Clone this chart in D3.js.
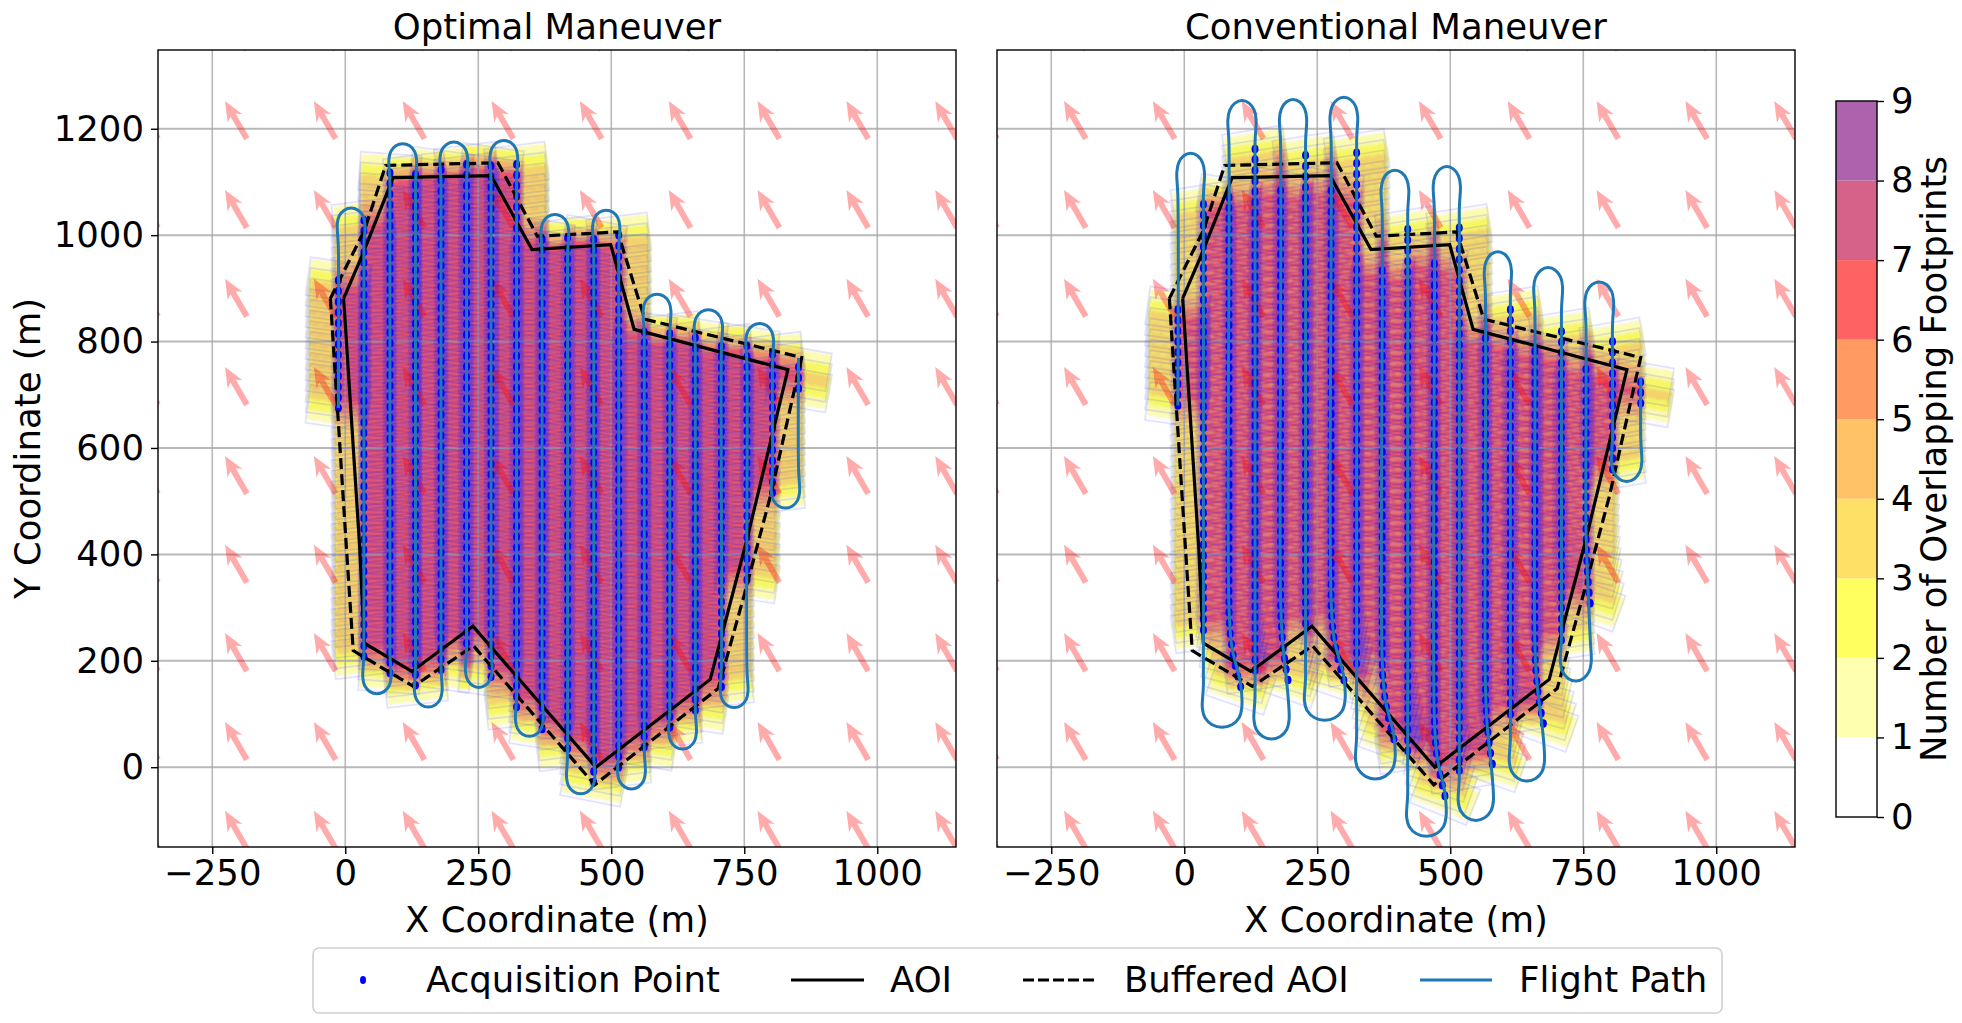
<!DOCTYPE html>
<html>
<head>
<meta charset="utf-8">
<script src="https://cdn.jsdelivr.net/npm/d3@7"></script>
<style>
  body { margin: 0; background: #fff; }
  text { font-family: "DejaVu Sans", sans-serif; fill: #000; }
</style>
</head>
<body>
<script>
// the AOI and its buffer, in metres
const aoiX = [-3, 27, 36, 125, 240, 471, 686, 755, 832, 543, 499, 351, 274, 90, 31, -3]
const aoiY = [881, 415, 233, 180, 265, 0, 165, 428, 747, 823, 982, 973, 1112, 1108, 960, 881]
const bufX = [-28, 2, 15, 128, 241, 469, 701, 750, 799, 858, 563, 512, 361, 287, 76, 36, -28]
const bufY = [881, 415, 219, 152, 228, -33, 148, 324, 509, 770, 842, 1006, 998, 1136, 1131, 1009, 881]

// acquisition lines, left panel
const leftColX = [-13, 35, 84, 132, 180, 228, 274, 322, 370, 418, 467, 514, 562, 610, 658, 707, 755, 803, 852]
const leftTop = [919, 1030, 1125, 1131, 1131, 1134, 1134, 1137, 997, 1000, 1003, 1006, 837, 828, 816, 803, 794, 778, 769]
const leftBottom = [675, 208, 177, 154, 183, 233, 170, 113, 72, 35, -28, 0, 38, 75, 107, 151, 352, 516, 712]
const leftTilt = [8, -7, 4, -7, 8, -7, 8, -7, 9, -7, 11, -7, 9, -7, 9, -7, 9, -7, 10]
const leftTurnTop = [1051, 1172, 1175, 1178, 1039, 1047, 889, 860, 834]
const leftTurnBottom = [138, 113, 150, 58, -50, -41, 34, 112, 487]
const leftDrift = [0, 0, 0, 0, 0, 0, 0, 0, 0, 0, 0, 0, 0, 0, 0, 0, 0, 0, 0]

// acquisition lines, right panel
const rightColX = [-12, 36, 84, 133, 181, 228, 276, 324, 372, 420, 470, 517, 566, 613, 659, 709, 755, 805, 858]
const rightTop = [878, 1065, 1084, 1162, 1100, 1162, 1103, 1170, 950, 1025, 959, 1030, 806, 860, 784, 830, 766, 806, 731]
const rightBottom = [680, 258, 151, 182, 164, 270, 164, 195, 53, 31, -54, -6, 6, 100, 82, 239, 308, 560, 684]
const rightTilt = [8, -9, 9, -9, 9, -9, 9, -9, 10, -9, 12, -9, 10, -9, 10, -9, 10, -10, 10]
const rightTurnTop = [1154, 1253, 1255, 1259, 1122, 1129, 969, 939, 912]
const rightTurnBottom = [75, 53, 88, -22, -130, -100, -26, 162, 537]
const rightDrift = [0, 0, 22, 0, 14, 0, 24, 0, 22, 0, 20, 0, 13, 0, 16, 0, 8, 0, 0]

// spacing of the points along a line, size of one footprint outline
// and of the part of it that counts in the overlap map
const alongTrack = 20
const footW = 115
const footH = 72
const heatW = 114
const leftHeatH = 62
const rightHeatH = 57

// wind arrows
const windX = [-352, -185, -18, 149, 316, 482, 649, 816, 983, 1150]
const windY = [1348, 1181, 1014, 847, 681, 514, 347, 181, 14, -153]
const windDX = -41
const windDY = 71

// colour levels and ticks
const levelColors = ['#ffffff', '#ffffb0', '#ffff60', '#ffe066', '#ffc266', '#ff9a62', '#ff6262', '#d6628a', '#ad62ad']
const xTicks = [-250, 0, 250, 500, 750, 1000]
const yTicks = [0, 200, 400, 600, 800, 1000, 1200]
const barTicks = [0, 1, 2, 3, 4, 5, 6, 7, 8, 9]

// layout
const WIDTH = 1962
const HEIGHT = 1023
const PLOT_W = 798
const PLOT_H = 797
const PLOT_TOP = 50
const FONT = 35.5
const LEFT_X = 158
const RIGHT_X = 997

const svg = d3.select('body').append('svg')
  .attr('width', WIDTH)
  .attr('height', HEIGHT)
  .style('display', 'block')

// a small blur, the original is a resampled bitmap
svg.append('filter').attr('id', 'soft')
  .attr('x', 0).attr('y', 0).attr('width', 1).attr('height', 1)
  .append('feGaussianBlur').attr('stdDeviation', 1.1)

const xScale = d3.scaleLinear().domain([-352, 1148]).range([0, PLOT_W])
const yScale = d3.scaleLinear().domain([-150, 1348]).range([PLOT_H, 0])

const line = d3.line().x(d => xScale(d[0])).y(d => yScale(d[1]))

// list of acquisition points of a panel
function acquisitions(p) {
  const out = []
  p.colX.forEach((cx, i) => {
    d3.range(p.bottom[i], p.top[i] + 1, alongTrack).forEach(y => {
      const k = Math.max(0, 1 - (y - p.bottom[i]) / 150)
      out.push({
        x: cx + p.drift[i] * k * k,
        y: y,
        tilt: p.tilt[i] + (p.drift[i] > 0 ? k * k * 10 : 0)
      })
    })
  })
  return out
}

// corners of a footprint, tilt is clockwise on the page
function corners(d) {
  const a = d.tilt * Math.PI / 180
  return [[-1, 1], [1, 1], [1, -1], [-1, -1]].map(c => {
    const u = c[0] * footW / 2
    const v = c[1] * footH / 2
    return [d.x + u * Math.cos(a) + v * Math.sin(a), d.y - u * Math.sin(a) + v * Math.cos(a)]
  })
}

// how many footprints cover each cell
function overlapGrid(points, heatH, cell, x0, y0, n, m) {
  const grid = new Float64Array(n * m)
  const hw = heatW / 2
  const hh = heatH / 2
  points.forEach(d => {
    const a = d.tilt * Math.PI / 180
    const cs = Math.cos(a)
    const sn = Math.sin(a)
    const r = hw + hh
    const i0 = Math.max(0, Math.floor((d.x - r - x0) / cell))
    const i1 = Math.min(n - 1, Math.ceil((d.x + r - x0) / cell))
    const j0 = Math.max(0, Math.floor((d.y - r - y0) / cell))
    const j1 = Math.min(m - 1, Math.ceil((d.y + r - y0) / cell))
    for (let j = j0; j <= j1; j++) {
      for (let i = i0; i <= i1; i++) {
        const dx = x0 + i * cell - d.x
        const dy = y0 + j * cell - d.y
        const u = dx * cs - dy * sn
        const v = dx * sn + dy * cs
        if (Math.abs(u) <= hw && Math.abs(v) <= hh) grid[j * n + i]++
      }
    }
  })
  return grid
}

// the flight line: up the even lines, down the odd ones, with a turn between
function flightPoints(p) {
  const pts = [[p.colX[0], p.bottom[0]]]
  const ry = p.turnRadius
  for (let i = 0; i < p.colX.length - 1; i++) {
    const up = i % 2 === 0
    const apex = up ? p.turnTop[i / 2] : p.turnBottom[(i - 1) / 2]
    const dir = up ? 1 : -1
    // the drift only bends the lines near their lower end
    const xa = p.colX[i] + (up ? 0 : p.drift[i])
    const xb = p.colX[i + 1] + (up ? 0 : p.drift[i + 1])
    const cx = (xa + xb) / 2
    const rx = (xb - xa) / 2 + 2
    const cy = apex - dir * ry
    pts.push([xa, cy - dir * 45])
    d3.range(0, 7).forEach(s => {
      const t = Math.PI - s * Math.PI / 6
      pts.push([cx + rx * Math.cos(t), cy + dir * ry * Math.sin(t)])
    })
    pts.push([xb, cy - dir * 45])
    if (!up && p.drift[i + 1] > 0) {
      pts.push([p.colX[i + 1] + p.drift[i + 1] * 0.25, p.bottom[i + 1] + 75])
      pts.push([p.colX[i + 1], p.bottom[i + 1] + 150])
    }
  }
  const last = p.colX.length - 1
  pts.push([p.colX[last], p.top[last]])
  return pts
}

// one panel
function drawPanel(left, title, p, showY, id) {
  const g = svg.append('g').attr('transform', `translate(${left},${PLOT_TOP})`)

  g.append('clipPath').attr('id', id)
    .append('rect').attr('width', PLOT_W).attr('height', PLOT_H)

  const plot = g.append('g').attr('clip-path', `url(#${id})`)
  const points = acquisitions(p)

  // overlap map as filled contours
  const cell = 3
  const x0 = -352
  const y0 = -150
  const n = Math.round(1500 / cell)
  const m = Math.round(1500 / cell)
  const contours = d3.contours().size([n, m]).smooth(false)
    .thresholds(d3.range(1, 9))(overlapGrid(points, p.heatH, cell, x0, y0, n, m))
  const toScreen = d3.geoTransform({
    point: function (x, y) {
      this.stream.point(xScale(x0 + x * cell), yScale(y0 + y * cell))
    }
  })
  plot.append('g').attr('filter', 'url(#soft)').selectAll('path')
    .data(contours)
    .join('path')
    .attr('d', d3.geoPath(toScreen))
    .attr('fill', d => levelColors[d.value])

  // grid
  plot.append('g').selectAll('line.v').data(xTicks).join('line')
    .attr('x1', d => xScale(d)).attr('x2', d => xScale(d))
    .attr('y1', 0).attr('y2', PLOT_H)
    .attr('stroke', '#a8a8a8').attr('stroke-opacity', 0.8).attr('stroke-width', 1.6)
  plot.append('g').selectAll('line.h').data(yTicks).join('line')
    .attr('x1', 0).attr('x2', PLOT_W)
    .attr('y1', d => yScale(d)).attr('y2', d => yScale(d))
    .attr('stroke', '#a8a8a8').attr('stroke-opacity', 0.8).attr('stroke-width', 2)

  // footprint outlines, with a trace of blue inside
  plot.append('g').selectAll('path')
    .data(points)
    .join('path')
    .attr('d', d => line(corners(d)) + 'Z')
    .attr('fill', '#0000ff')
    .attr('fill-opacity', 0.016)
    .attr('stroke', '#0000ff')
    .attr('stroke-opacity', 0.11)
    .attr('stroke-width', 1.7)

  // wind arrows
  const wind = d3.cross(windX, windY)
  plot.append('g').selectAll('path')
    .data(wind)
    .join('path')
    .attr('d', d => {
      const x1 = xScale(d[0])
      const y1 = yScale(d[1])
      const x2 = xScale(d[0] + windDX)
      const y2 = yScale(d[1] + windDY)
      const len = Math.hypot(x2 - x1, y2 - y1)
      const ux = (x2 - x1) / len
      const uy = (y2 - y1) / len
      const s = 3
      const hw = 8.5
      const hl = 20
      const bx = x2 - ux * hl
      const by = y2 - uy * hl
      const nx = -uy
      const ny = ux
      return [
        'M', x1 + nx * s, y1 + ny * s,
        'L', bx + ux * 4 + nx * s, by + uy * 4 + ny * s,
        'L', bx + nx * hw, by + ny * hw,
        'L', x2, y2,
        'L', bx - nx * hw, by - ny * hw,
        'L', bx + ux * 4 - nx * s, by + uy * 4 - ny * s,
        'L', x1 - nx * s, y1 - ny * s, 'Z'
      ].join(' ')
    })
    .attr('fill', '#ff0000')
    .attr('fill-opacity', 0.33)

  // acquisition points
  plot.append('g').selectAll('ellipse')
    .data(points)
    .join('ellipse')
    .attr('cx', d => xScale(d.x))
    .attr('cy', d => yScale(d.y))
    .attr('rx', 3.5)
    .attr('ry', 4.3)
    .attr('fill', '#0000ff')

  // AOI, buffered AOI, flight line
  plot.append('path')
    .attr('d', line(d3.zip(aoiX, aoiY)))
    .attr('fill', 'none').attr('stroke', '#000').attr('stroke-width', 3.2)
  plot.append('path')
    .attr('d', line(d3.zip(bufX, bufY)))
    .attr('fill', 'none').attr('stroke', '#000').attr('stroke-width', 3.2)
    .attr('stroke-dasharray', '11,5')
  plot.append('path')
    .attr('d', d3.line().x(d => xScale(d[0])).y(d => yScale(d[1]))
      .curve(d3.curveCatmullRom.alpha(0.5))(flightPoints(p)))
    .attr('fill', 'none').attr('stroke', '#1f77b4').attr('stroke-width', 3)

  // frame
  g.append('rect')
    .attr('width', PLOT_W).attr('height', PLOT_H)
    .attr('fill', 'none').attr('stroke', '#000').attr('stroke-width', 1.4)

  // axes
  const xAxis = g.append('g')
    .attr('transform', `translate(0,${PLOT_H})`)
    .call(d3.axisBottom(xScale).tickValues(xTicks).tickFormat(d3.format('d')).tickSize(7).tickPadding(6))
  xAxis.select('.domain').remove()
  xAxis.selectAll('line').attr('stroke-width', 1.4)
  xAxis.selectAll('text').style('font-size', FONT + 'px').style('font-family', '"DejaVu Sans"')

  if (showY) {
    const yAxis = g.append('g')
      .call(d3.axisLeft(yScale).tickValues(yTicks).tickFormat(d3.format('d')).tickSize(7).tickPadding(7))
    yAxis.select('.domain').remove()
    yAxis.selectAll('line').attr('stroke-width', 1.4)
    yAxis.selectAll('text').style('font-size', FONT + 'px').style('font-family', '"DejaVu Sans"')
    g.append('text')
      .attr('transform', `translate(${-131},${PLOT_H / 2}) rotate(-90)`)
      .attr('text-anchor', 'middle')
      .attr('dominant-baseline', 'central')
      .style('font-size', FONT + 'px')
      .text('Y Coordinate (m)')
  }

  g.append('text')
    .attr('x', PLOT_W / 2).attr('y', -11)
    .attr('text-anchor', 'middle')
    .style('font-size', FONT + 'px')
    .text(title)

  g.append('text')
    .attr('x', PLOT_W / 2).attr('y', PLOT_H + 85)
    .attr('text-anchor', 'middle')
    .style('font-size', FONT + 'px')
    .text('X Coordinate (m)')
}

drawPanel(LEFT_X, 'Optimal Maneuver', {
  colX: leftColX, top: leftTop, bottom: leftBottom, tilt: leftTilt, heatH: leftHeatH,
  turnTop: leftTurnTop, turnBottom: leftTurnBottom, drift: leftDrift, turnRadius: 30
}, true, 'clipLeft')

drawPanel(RIGHT_X, 'Conventional Maneuver', {
  colX: rightColX, top: rightTop, bottom: rightBottom, tilt: rightTilt, heatH: rightHeatH,
  turnTop: rightTurnTop, turnBottom: rightTurnBottom, drift: rightDrift, turnRadius: 36
}, false, 'clipRight')

// colour bar
const barY = d3.scaleLinear().domain([0, 9]).range([817, 101])
const BAR_X = 1836
const BAR_W = 41
const bar = svg.append('g')
bar.selectAll('rect')
  .data(levelColors)
  .join('rect')
  .attr('x', BAR_X)
  .attr('width', BAR_W)
  .attr('y', (d, i) => barY(i + 1))
  .attr('height', (d, i) => barY(i) - barY(i + 1))
  .attr('fill', d => d)
bar.append('rect')
  .attr('x', BAR_X).attr('y', barY(9))
  .attr('width', BAR_W).attr('height', barY(0) - barY(9))
  .attr('fill', 'none').attr('stroke', '#000').attr('stroke-width', 1.4)
const barAxis = bar.append('g')
  .attr('transform', `translate(${BAR_X + BAR_W},0)`)
  .call(d3.axisRight(barY).tickValues(barTicks).tickFormat(d3.format('d')).tickSize(7).tickPadding(7))
barAxis.select('.domain').remove()
barAxis.selectAll('line').attr('stroke-width', 1.4)
barAxis.selectAll('text').style('font-size', FONT + 'px').style('font-family', '"DejaVu Sans"')
bar.append('text')
  .attr('transform', `translate(1933,459) rotate(-90)`)
  .attr('text-anchor', 'middle')
  .attr('dominant-baseline', 'central')
  .style('font-size', FONT + 'px')
  .text('Number of Overlapping Footprints')

// legend
const legend = svg.append('g')
legend.append('rect')
  .attr('x', 313).attr('y', 948)
  .attr('width', 1409).attr('height', 65)
  .attr('rx', 6)
  .attr('fill', '#fff').attr('stroke', '#d0d0d0').attr('stroke-width', 1.6)
legend.append('ellipse').attr('cx', 363).attr('cy', 980).attr('rx', 3).attr('ry', 4).attr('fill', '#0000ff')
legend.append('line').attr('x1', 791).attr('x2', 864).attr('y1', 980).attr('y2', 980)
  .attr('stroke', '#000').attr('stroke-width', 3)
legend.append('line').attr('x1', 1023).attr('x2', 1095).attr('y1', 980).attr('y2', 980)
  .attr('stroke', '#000').attr('stroke-width', 3).attr('stroke-dasharray', '11,4')
legend.append('line').attr('x1', 1420).attr('x2', 1492).attr('y1', 980).attr('y2', 980)
  .attr('stroke', '#1f77b4').attr('stroke-width', 3)
const legendNames = ['Acquisition Point', 'AOI', 'Buffered AOI', 'Flight Path']
const legendAt = [426, 890, 1124, 1519]
legend.selectAll('text')
  .data(legendNames)
  .join('text')
  .attr('x', (d, i) => legendAt[i])
  .attr('y', 992)
  .style('font-size', FONT + 'px')
  .text(d => d)
</script>
</body>
</html>
